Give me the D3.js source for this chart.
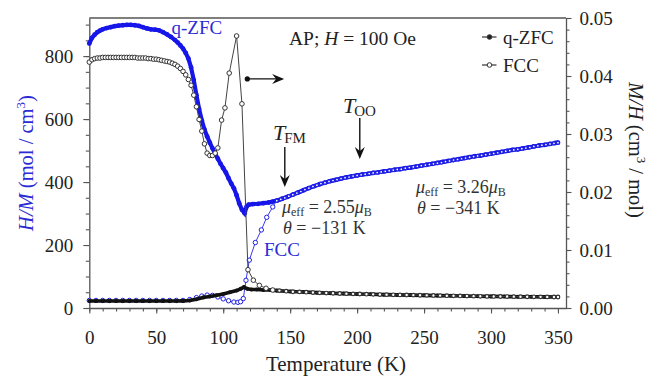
<!DOCTYPE html>
<html>
<head>
<meta charset="utf-8">
<script src="https://cdn.jsdelivr.net/npm/d3@7"></script>
<style>
  body { margin: 0; background: #fff; }
  svg text, svg tspan { font-family: 'Liberation Serif', 'Tinos', 'Times New Roman', 'DejaVu Serif', serif !important; }
</style>
</head>
<body>
<svg id="chart" width="651" height="377"></svg>
<script>
// ---- data ----
// q-ZFC, H/M (left axis, blue filled)
const zfcHM_T = [0, 2, 4, 6, 8, 10, 13, 16, 19, 22, 25, 28, 31, 34, 37, 40, 43, 46, 49, 52, 55, 58, 61, 64, 66, 68, 70, 72, 74, 76, 78, 80, 82, 84, 86, 88, 90, 92, 94, 96, 98, 100, 102, 104, 106, 108, 110, 112, 114, 116, 117.5, 119, 122, 126, 130, 134, 137,
  140, 144, 148, 152, 156, 160, 164, 168, 172, 176, 180, 184, 188, 192, 196, 200, 204, 208, 212, 216, 220, 224, 228, 232, 236, 240, 244, 248, 252, 256, 260, 264, 268, 272, 276, 280, 284, 288, 292, 296, 300, 304, 308, 312, 316, 320, 324, 328, 332, 336, 340, 344, 348, 350];
const zfcHM_V = [840, 858, 868, 876, 881, 885, 889, 892, 895, 897, 898, 899, 899, 898, 896, 892, 888, 885, 884, 882, 876, 869, 861, 851, 843, 834, 824, 810, 792, 764, 724, 676, 632, 596, 567, 545, 525, 507, 490, 474, 458, 444, 430, 412, 395, 380, 358, 332, 312, 301, 322, 328, 330, 331, 333, 335, 338,
  341, 347, 353, 360, 367, 374, 381, 387, 393, 398, 403, 407, 411, 415, 418, 421, 424, 426, 429, 431, 434, 436, 439, 441, 444, 446, 449, 452, 455, 458, 461, 464, 467, 470, 473, 476, 479, 482, 484, 487, 490, 493, 496, 499, 502, 504, 507, 510, 513, 516, 518, 521, 524, 525];

// FCC, H/M (left axis, blue open)
const fccHM_T = [0, 5, 10, 15, 20, 25, 30, 35, 40, 45, 50, 55, 60, 65, 70, 75, 80, 84, 88, 92, 96, 100, 104, 108, 111, 113, 115, 117, 119.5, 124, 128.5, 132.5, 137,
  140, 143, 146, 149, 152, 155, 158, 161, 164, 167, 170, 173, 176, 179, 182, 185, 188, 191, 194, 197, 200, 203, 206, 209, 212, 215, 218, 221, 224, 227, 230, 233, 236, 239, 242, 245, 248, 251, 254, 257, 260, 263, 266, 269, 272, 275, 278, 281, 284, 287, 290, 293, 296, 299, 302, 305, 308, 311, 314, 317, 320, 323, 326, 329, 332, 335, 338, 341, 344, 347, 350];
const fccHM_V = [24, 24, 24, 24, 24, 24, 24, 24, 24, 24, 24, 24, 24, 24, 24, 27, 33, 38, 41, 40, 35, 29, 23, 19, 18, 20, 30, 88, 152, 208, 248, 288, 321,
  341, 345, 350, 355, 360, 365, 370, 376, 381, 386, 390, 395, 398, 402, 405, 408, 411, 414, 416, 419, 421, 423, 425, 427, 429, 430, 432, 434, 436, 438, 440, 441, 444, 446, 448, 450, 452, 454, 456, 458, 460, 462, 465, 467, 470, 472, 474, 476, 479, 481, 483, 485, 487, 489, 491, 493, 496, 498, 500, 502, 504, 506, 508, 510, 513, 515, 517, 519, 521, 523, 525];

// q-ZFC, M/H (right axis, black filled)
const zfcMH_T = [0, 5, 10, 15, 20, 25, 30, 35, 40, 45, 50, 55, 60, 65, 70, 75, 80, 85, 90, 95, 100, 105, 110, 113, 115.5, 118, 121, 125, 130, 135, 140,
  150, 160, 170, 180, 190, 200, 210, 220, 230, 240, 250, 260, 270, 280, 290, 300, 310, 320, 330, 340, 350];
const zfcMH_V = [0.0012, 0.0012, 0.0012, 0.0012, 0.0012, 0.0012, 0.0012, 0.0012, 0.0012, 0.0012, 0.0012, 0.0012, 0.0012, 0.0012, 0.00122, 0.0013, 0.0015, 0.0018, 0.0020, 0.0022, 0.0024, 0.0027, 0.0030, 0.0033, 0.0036, 0.0033, 0.0032, 0.0032, 0.0031, 0.0031, 0.0030,
  0.00285, 0.00275, 0.00265, 0.00255, 0.00248, 0.00242, 0.00236, 0.0023, 0.00226, 0.00222, 0.00218, 0.00214, 0.0021, 0.00207, 0.00203, 0.002, 0.00197, 0.00195, 0.00193, 0.00191, 0.0019];

// FCC, M/H (right axis, black open)
const fccMH_T = [0, 2, 4, 6, 8, 10, 12, 14, 16, 18, 20, 22, 24, 26, 28, 30, 32, 34, 36, 38, 40, 42, 44, 46, 48, 50, 52, 54, 56, 58, 60, 62, 64, 66, 68, 70, 72, 74, 76, 78, 80, 82, 84, 86, 88, 90, 92, 94, 96, 98.8, 101.3, 104.5, 110, 114, 118.5, 122.5, 127, 132, 137,
  142, 147, 152, 157, 162, 167, 172, 177, 182, 187, 192, 197, 202, 207, 212, 217, 222, 227, 232, 237, 242, 247, 252, 257, 262, 267, 272, 277, 282, 287, 292, 297, 302, 307, 312, 317, 322, 327, 332, 337, 342, 347, 350];
const fccMH_V = [0.0424, 0.0428, 0.0430, 0.0431, 0.0431, 0.0432, 0.0432, 0.0432, 0.0432, 0.0432, 0.0432, 0.0432, 0.0432, 0.0432, 0.0432, 0.0432, 0.0432, 0.0432, 0.0431, 0.0431, 0.0431, 0.0431, 0.0430, 0.0430, 0.0429, 0.0429, 0.0428, 0.0427, 0.0426, 0.0425, 0.0424, 0.0422, 0.0420, 0.0417, 0.0413, 0.0408, 0.0402, 0.0394, 0.0384, 0.0367, 0.0347, 0.0325, 0.0305, 0.0283, 0.0267, 0.0263, 0.0263, 0.0267, 0.0276, 0.0324, 0.0345, 0.0405, 0.0469, 0.0352, 0.0066, 0.0048, 0.0039, 0.0034, 0.0031,
  0.0030, 0.0029, 0.0028, 0.00278, 0.00272, 0.00266, 0.00262, 0.00258, 0.00254, 0.0025, 0.00247, 0.00244, 0.00241, 0.00238, 0.00235, 0.00232, 0.0023, 0.00228, 0.00226, 0.00224, 0.00222, 0.0022, 0.00218, 0.00216, 0.00214, 0.00212, 0.0021, 0.00208, 0.00206, 0.00204, 0.00202, 0.002, 0.00199, 0.00198, 0.00197, 0.00196, 0.00195, 0.00194, 0.00193, 0.00192, 0.00191, 0.0019, 0.0019];

const xTicks = [0, 50, 100, 150, 200, 250, 300, 350];
const leftTicks = [0, 200, 400, 600, 800];
const rightTicks = [0, 0.01, 0.02, 0.03, 0.04, 0.05];

// ---- layout ----
const plot = { left: 89.3, right: 566, top: 18, bottom: 308 };
const BLUE = "#1616ea", BLUE_TXT = "#2b2bd6", INK = "#222", AXIS = "#555";
const SERIF = "'Liberation Serif', 'Tinos', 'Times New Roman', 'DejaVu Serif', serif";

const svg = d3.select("#chart").attr("font-family", SERIF);

const x = d3.scaleLinear().domain([0, 356]).range([plot.left, plot.right]);
const yL = d3.scaleLinear().domain([0, 921]).range([plot.bottom, plot.top]);
const yR = d3.scaleLinear().domain([0, 0.05]).range([plot.bottom, plot.top]);

function styleAxis(g) {
  g.attr("font-family", SERIF);
  g.select(".domain").attr("stroke", AXIS).attr("stroke-width", 1.3);
  g.selectAll(".tick line").attr("stroke", AXIS).attr("stroke-width", 1.1);
  g.selectAll(".tick text").attr("font-size", 19).attr("fill", INK);
}

// minor ticks first
svg.append("g").attr("transform", `translate(0,${plot.bottom})`)
  .call(d3.axisBottom(x).tickValues(d3.range(0, 351, 10)).tickSize(3.5).tickFormat(""))
  .call(g => { styleAxis(g); g.select(".domain").remove(); });
svg.append("g").attr("transform", `translate(${plot.left},0)`)
  .call(d3.axisLeft(yL).tickValues(d3.range(0, 921, 50)).tickSize(3.5).tickFormat(""))
  .call(g => { styleAxis(g); g.select(".domain").remove(); });
svg.append("g").attr("transform", `translate(${plot.right},0)`)
  .call(d3.axisRight(yR).tickValues(d3.range(0, 0.0501, 0.002)).tickSize(3.5).tickFormat(""))
  .call(g => { styleAxis(g); g.select(".domain").remove(); });

// major axes
svg.append("g").attr("transform", `translate(0,${plot.bottom})`)
  .call(d3.axisBottom(x).tickValues(xTicks).tickSize(5.5).tickSizeOuter(0))
  .call(styleAxis)
  .call(g => g.selectAll(".tick text").attr("y", 23).attr("dy", "0.71em"));
svg.append("g").attr("transform", `translate(${plot.left},0)`)
  .call(d3.axisLeft(yL).tickValues(leftTicks).tickSize(6).tickPadding(10).tickSizeOuter(0))
  .call(styleAxis);
svg.append("g").attr("transform", `translate(${plot.right},0)`)
  .call(d3.axisRight(yR).tickValues(rightTicks).tickFormat(d3.format(".2f")).tickSize(5.5).tickPadding(8).tickSizeOuter(0))
  .call(styleAxis);

// top frame line
svg.append("line")
  .attr("x1", plot.left).attr("x2", plot.right).attr("y1", plot.top).attr("y2", plot.top)
  .attr("stroke", AXIS).attr("stroke-width", 1.3);

// ---- series ----
const zip = (ts, vs) => ts.map((t, i) => ({ t: t, v: vs[i] }));
const lineL = d3.line().x(d => x(d.t)).y(d => yL(d.v));
const lineR = d3.line().x(d => x(d.t)).y(d => yR(d.v));

const series = svg.append("g");

// q-ZFC H/M : thick blue dotted trace
let d1 = zip(zfcHM_T, zfcHM_V);
series.append("path").datum(d1).attr("d", lineL)
  .attr("fill", "none").attr("stroke", BLUE).attr("stroke-width", 4.2);
series.append("g").selectAll("circle").data(d1).enter().append("circle")
  .attr("cx", d => x(d.t)).attr("cy", d => yL(d.v)).attr("r", 2.4).attr("fill", BLUE);

// FCC H/M : thin blue line with open circles
let d2 = zip(fccHM_T, fccHM_V);
series.append("path").datum(d2).attr("d", lineL)
  .attr("fill", "none").attr("stroke", "#3c3ce6").attr("stroke-width", 1);
series.append("g").selectAll("circle").data(d2).enter().append("circle")
  .attr("cx", d => x(d.t)).attr("cy", d => yL(d.v)).attr("r", d => d.t >= 140 ? 1.5 : 2.2)
  .attr("fill", "#fff").attr("stroke", "#1f1fe4").attr("stroke-width", d => d.t >= 140 ? 1.3 : 1);

// q-ZFC M/H : thick black trace
let d3s = zip(zfcMH_T, zfcMH_V);
series.append("path").datum(d3s).attr("d", lineR)
  .attr("fill", "none").attr("stroke", "#111").attr("stroke-width", 3.6);
series.append("g").selectAll("circle").data(d3s).enter().append("circle")
  .attr("cx", d => x(d.t)).attr("cy", d => yR(d.v)).attr("r", 2).attr("fill", "#111");

// FCC M/H : thin black line with open circles
let d4 = zip(fccMH_T, fccMH_V);
series.append("path").datum(d4).attr("d", lineR)
  .attr("fill", "none").attr("stroke", "#444").attr("stroke-width", 1);
series.append("g").selectAll("circle").data(d4).enter().append("circle")
  .attr("cx", d => x(d.t)).attr("cy", d => yR(d.v)).attr("r", d => d.t >= 140 ? 1.8 : 2.3)
  .attr("fill", "#fff").attr("stroke", "#333").attr("stroke-width", d => d.t >= 140 ? 1.2 : 1);

// ---- axis titles ----
svg.append("text")
  .attr("x", 336).attr("y", 371).attr("text-anchor", "middle")
  .attr("font-size", 21).attr("fill", INK).text("Temperature (K)");

let lt = svg.append("text")
  .attr("transform", "translate(33,163) rotate(-90)").attr("text-anchor", "middle")
  .attr("font-size", 20.5).attr("fill", BLUE_TXT);
lt.append("tspan").attr("font-style", "italic").text("H/M");
lt.append("tspan").text(" (mol / cm");
lt.append("tspan").attr("font-size", 13).attr("dy", -8).text("3");
lt.append("tspan").attr("dy", 8).text(")");

let rt = svg.append("text")
  .attr("transform", "translate(629,150) rotate(90)").attr("text-anchor", "middle")
  .attr("font-size", 20.5).attr("fill", INK);
rt.append("tspan").attr("font-style", "italic").text("M/H");
rt.append("tspan").text(" (cm");
rt.append("tspan").attr("font-size", 13).attr("dy", -8).text("3");
rt.append("tspan").attr("dy", 8).text(" / mol)");

// ---- legend ----
const legend = svg.append("g");
[{ name: "q-ZFC", y: 37, filled: true }, { name: "FCC", y: 65, filled: false }].forEach(item => {
  legend.append("line").attr("x1", 482).attr("x2", 496.5).attr("y1", item.y).attr("y2", item.y)
    .attr("stroke", "#333").attr("stroke-width", 1.2);
  legend.append("circle").attr("cx", 489.5).attr("cy", item.y).attr("r", 2.3)
    .attr("fill", item.filled ? "#222" : "#fff").attr("stroke", "#333").attr("stroke-width", 1);
  legend.append("text").attr("x", 503).attr("y", item.y + 6.5)
    .attr("font-size", 19).attr("fill", INK).text(item.name);
});

// ---- annotations ----
const ann = svg.append("g").attr("fill", INK);

ann.append("text").attr("x", 171.5).attr("y", 33.5).attr("font-size", 19)
  .attr("fill", BLUE_TXT).text("q-ZFC");
ann.append("text").attr("x", 264).attr("y", 256).attr("font-size", 19)
  .attr("fill", BLUE_TXT).text("FCC");

let ap = ann.append("text").attr("x", 289).attr("y", 45).attr("font-size", 19.5);
ap.append("tspan").text("AP; ");
ap.append("tspan").attr("font-style", "italic").text("H");
ap.append("tspan").text(" = 100 Oe");

function arrowHead(px, py, dir) {
  // barbed arrow head, tip at (px,py); dir "right" or "down"
  let p = dir === "right"
    ? [[px, py], [px - 12, py - 5], [px - 8, py], [px - 12, py + 5]]
    : [[px, py], [px - 5, py - 12], [px, py - 8], [px + 5, py - 12]];
  ann.append("path").attr("d", "M" + p.join("L") + "Z").attr("fill", "#111");
}

// arrow from the FCC peak pointing to the right-hand axis
const arY = yR(0.0395);
ann.append("circle").attr("cx", x(118)).attr("cy", arY).attr("r", 2.6).attr("fill", "#111");
ann.append("line").attr("x1", x(118)).attr("x2", x(144)).attr("y1", arY).attr("y2", arY)
  .attr("stroke", "#111").attr("stroke-width", 1.4);
arrowHead(x(145.5), arY, "right");

// T_FM
let tfm = ann.append("text").attr("x", 273).attr("y", 140).attr("font-size", 22);
tfm.append("tspan").attr("font-style", "italic").text("T");
tfm.append("tspan").attr("font-size", 15).attr("dy", 3).attr("dx", -1).text("FM");
ann.append("line").attr("x1", x(146)).attr("x2", x(146)).attr("y1", 147).attr("y2", 183)
  .attr("stroke", "#111").attr("stroke-width", 1.4);
arrowHead(x(146), 187, "down");

// T_OO
let too = ann.append("text").attr("x", 343).attr("y", 113).attr("font-size", 22);
too.append("tspan").attr("font-style", "italic").text("T");
too.append("tspan").attr("font-size", 15).attr("dy", 3).attr("dx", -1).text("OO");
ann.append("line").attr("x1", x(202)).attr("x2", x(202)).attr("y1", 118).attr("y2", 155)
  .attr("stroke", "#111").attr("stroke-width", 1.4);
arrowHead(x(202), 159, "down");

function muText(px, py, mu, theta) {
  let t1 = ann.append("text").attr("x", px).attr("y", py).attr("font-size", 18).attr("fill", "#333");
  t1.append("tspan").attr("font-style", "italic").text("\u03bc");
  t1.append("tspan").attr("font-size", 12).attr("dy", 3).text("eff");
  t1.append("tspan").attr("dy", -3).text(" = " + mu);
  t1.append("tspan").attr("font-style", "italic").text("\u03bc");
  t1.append("tspan").attr("font-size", 12).attr("dy", 3).text("B");
  let t2 = ann.append("text").attr("x", px + 1).attr("y", py + 21).attr("font-size", 18).attr("fill", "#333");
  t2.append("tspan").attr("font-style", "italic").text("\u03b8");
  t2.append("tspan").text(" = \u2212" + theta + " K");
}
muText(282, 213, "2.55", "131");
muText(416, 192.5, "3.26", "341");
</script>
</body>
</html>
